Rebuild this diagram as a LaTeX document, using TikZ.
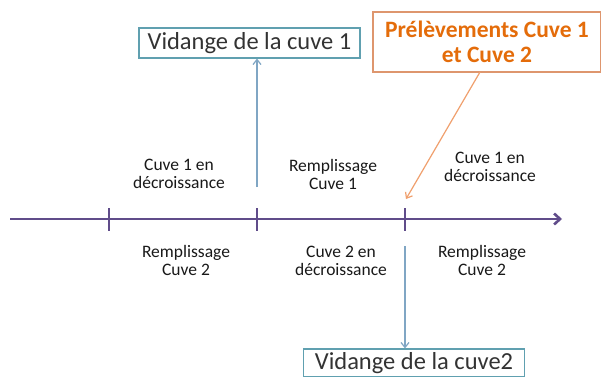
\documentclass[tikz,border=0pt]{standalone}
\usepackage{fontspec}
\setmainfont{Carlito}
\usepackage{xcolor}
\usetikzlibrary{arrows.meta, positioning}
\definecolor{axe}{RGB}{96,76,138}
\definecolor{bleu}{RGB}{96,160,176}
\definecolor{fleche}{RGB}{128,166,196}
\definecolor{orangetxt}{RGB}{228,108,10}
\definecolor{cadreor}{RGB}{222,150,110}
\definecolor{flecheor}{RGB}{240,160,110}

\begin{document}
\begin{tikzpicture}[x=1pt, y=-1pt,
    etiquette/.style={align=center, font=\fontsize{17.5}{18}\selectfont, text=black!90},
    boite/.style={draw=bleu, line width=1.2pt, minimum width=221pt, minimum height=31pt,
                  inner sep=0pt, font=\fontsize{24.5}{26}\selectfont, text=black!80}]
    \clip (0,0) rectangle (601,376);
    \fill[white] (0,0) rectangle (601,376);

    % axe du temps
    \coordinate (debut) at (10,219);
    \coordinate (fin) at (562,219);
    \draw[axe, line width=2.6pt, -{Straight Barb[length=6pt, width=11pt]}] (debut) -- (fin);
    \foreach \x [count=\i] in {109,257,405} {
        \coordinate (t\i) at (\x,219);
        \draw[axe, line width=2.4pt] (\x,208) -- (\x,231);
    }

    % boites
    \node[boite, minimum height=30pt] (vid1) at (249.5,43) {Vidange de la cuve 1};
    \node[boite, minimum height=28pt] (vid2) at (414,363) {Vidange de la cuve2};
    \node[draw=cadreor, line width=1.2pt, minimum width=228pt, minimum height=60pt,
          align=center, font=\bfseries\fontsize{23.5}{25}\selectfont, text=orangetxt]
          (prel) at (487,42) {Prélèvements Cuve 1\\et Cuve 2};

    % phases
    \node[etiquette] (c1dec) at (179,174) {Cuve 1 en\\décroissance};
    \node[etiquette] (rem1) at (333,174) {Remplissage\\Cuve 1};
    \node[etiquette] (c1dec2) at (490,167) {Cuve 1 en\\décroissance};
    \node[etiquette] (rem2) at (186,260.5) {Remplissage\\Cuve 2};
    \node[etiquette] (c2dec) at (341,260.5) {Cuve 2 en\\décroissance};
    \node[etiquette] (rem2b) at (482,260.5) {Remplissage\\Cuve 2};

    % fleches
    \coordinate (bas1) at (257,187);
    \coordinate (haut2) at (405,246);
    \coordinate (depart) at (480,72);
    \coordinate (cible) at (406,199);
    \draw
    (bas1) edge[fleche, line width=1.2pt, -{Straight Barb[length=5pt, width=8pt]}] (bas1 |- vid1.south)
    (haut2) edge[fleche, line width=1.2pt, -{Straight Barb[length=5pt, width=8pt]}] (haut2 |- vid2.north)
    (depart) edge[flecheor, line width=1.2pt, -{Straight Barb[length=5pt, width=8pt]}] (cible);
\end{tikzpicture}
\end{document}
